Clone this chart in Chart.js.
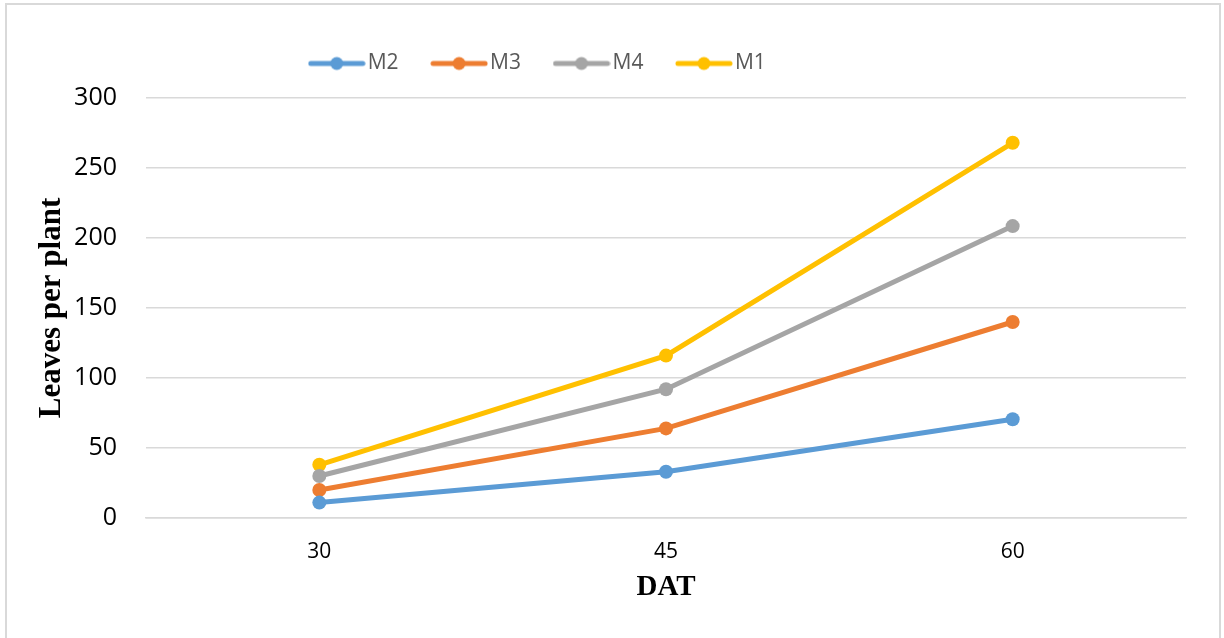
<!DOCTYPE html>
<html>
<head>
<meta charset="utf-8">
<script src="https://cdn.jsdelivr.net/npm/chart.js@4.4.1/dist/chart.umd.min.js"></script>
<style>
  html, body { margin: 0; padding: 0; background: #ffffff; }
  body { width: 1224px; height: 638px; position: relative; overflow: hidden; }
  #frame { position: absolute; left: 5px; top: 3px; width: 1216px; height: 660px;
           border: 2px solid #d9d9d9; box-sizing: border-box; }
  #wrap { position: absolute; left: 0; top: 0; width: 1224px; height: 638px; }
</style>
</head>
<body>
<div id="frame"></div>
<div id="wrap"><canvas id="chart" width="1224" height="638"></canvas></div>
<script>
// Days after transplanting
const categories = ['30', '45', '60'];

// Leaves per plant for each treatment
const m2 = [11, 33, 70.5];
const m3 = [20, 64, 140];
const m4 = [30, 92, 208.5];
const m1 = [38, 116, 268];

const seriesNames = ['M2', 'M3', 'M4', 'M1'];
const seriesValues = [m2, m3, m4, m1];
const seriesColors = ['#5B9BD5', '#ED7D31', '#A5A5A5', '#FFC000'];

const yTicks = [0, 50, 100, 150, 200, 250, 300];

// Legend swatch: a short line with a marker in the middle
function lineMarker(color) {
  const c = document.createElement('canvas');
  c.width = 58; c.height = 16;
  const g = c.getContext('2d');
  g.strokeStyle = color;
  g.lineWidth = 5;
  g.lineCap = 'round';
  g.beginPath(); g.moveTo(3, 8); g.lineTo(55, 8); g.stroke();
  g.fillStyle = color;
  g.beginPath(); g.arc(29, 8, 6.5, 0, Math.PI * 2); g.fill();
  return c;
}

const datasets = seriesNames.map((name, i) => ({
  label: name,
  data: seriesValues[i],
  borderColor: seriesColors[i],
  backgroundColor: seriesColors[i],
  borderWidth: 5,
  pointRadius: 7,
  pointHoverRadius: 7,
  pointBorderWidth: 0,
  pointStyle: 'circle',
  legendSwatch: lineMarker(seriesColors[i]),
  tension: 0
}));

// move the legend block left of centre and closer to the top edge
const legendShift = {
  id: 'legendShift',
  afterLayout(chart) {
    const lg = chart.legend;
    lg.left -= 52; lg.right -= 52;
    lg.top -= 14; lg.bottom -= 14;
  }
};

new Chart(document.getElementById('chart'), {
  type: 'line',
  data: { labels: categories, datasets },
  plugins: [legendShift],
  options: {
    responsive: false,
    animation: false,
    events: [],
    layout: { padding: { left: 0, right: 38, top: 27, bottom: 0 } },
    plugins: {
      tooltip: { enabled: false },
      legend: {
        position: 'top',
        labels: {
          usePointStyle: true,
          pointStyleWidth: 41,
          padding: 40,
          color: '#595959',
          font: { family: '"Open Sans", sans-serif', size: 21 },
          generateLabels(chart) {
            return chart.data.datasets.map((d, i) => ({
              text: d.label,
              fillStyle: d.borderColor,
              strokeStyle: d.borderColor,
              lineWidth: 0,
              pointStyle: d.legendSwatch,
              fontColor: '#595959',
              hidden: false,
              datasetIndex: i
            }));
          }
        }
      }
    },
    scales: {
      x: {
        type: 'category',
        offset: true,
        grid: { display: false, drawTicks: false },
        border: { display: true, color: '#d9d9d9', width: 1.5 },
        ticks: {
          color: '#000000',
          padding: 21,
          font: { family: '"Open Sans", sans-serif', size: 21 }
        },
        title: {
          display: true,
          text: 'DAT',
          color: '#000000',
          font: { family: '"Liberation Serif", "Times New Roman", serif', size: 29, weight: 'bold' },
          padding: { top: 0, bottom: 33 }
        },
        afterFit(scale) { scale.height = 120; }
      },
      y: {
        min: 0,
        max: 300,
        afterBuildTicks(scale) { scale.ticks = yTicks.map(v => ({ value: v })); },
        grid: { color: '#d9d9d9', lineWidth: 1.5, drawTicks: false },
        border: { display: false },
        ticks: {
          color: '#000000',
          padding: 29,
          font: { family: '"Open Sans", sans-serif', size: 25 }
        },
        title: {
          display: true,
          text: 'Leaves per plant',
          color: '#000000',
          font: { family: '"Liberation Serif", "Times New Roman", serif', size: 31, weight: 'bold' },
          padding: { top: 33, bottom: 0 }
        },
        afterFit(scale) { scale.width = 146; }
      }
    }
  }
});
</script>
</body>
</html>
